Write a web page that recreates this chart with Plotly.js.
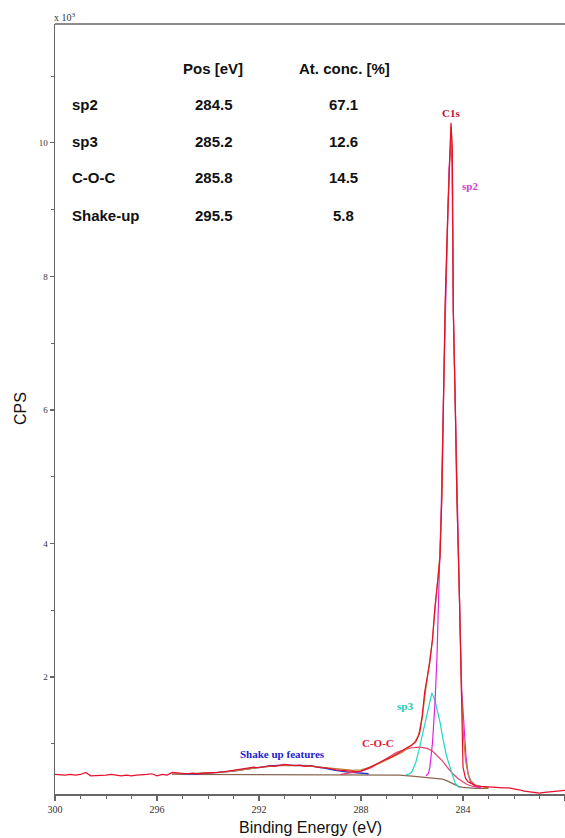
<!DOCTYPE html>
<html><head><meta charset="utf-8">
<script src="https://cdn.plot.ly/plotly-3.0.1.min.js"></script>
<style>html,body{margin:0;padding:0;background:#fff}#chart{width:565px;height:838px}</style>
</head><body><div id="chart"></div>
<script>
// ---- measured spectrum (binding energy eV, counts x10^3) ----
const dataE = [
 300.0,299.8,299.6,299.4,299.2,299.0,298.8,298.6,298.4,298.2,
 298.0,297.8,297.6,297.4,297.2,297.0,296.8,296.6,296.4,296.2,
 296.0,295.8,295.6,295.4,295.2,295.0,294.8,294.6,294.4,294.2,
 294.0,293.8,293.6,293.4,293.2,293.0,292.8,292.6,292.4,292.2,
 292.0,291.8,291.6,291.4,291.2,291.0,290.8,290.6,290.4,290.2,
 290.0,289.8,289.6,289.4,289.2,289.0,288.8,288.6,288.4,288.2,
 288.0,287.8,287.6,287.4,287.2,287.0,286.8,286.6,286.4,286.2,
 286.0,285.85,285.7,285.6,285.5,285.4,285.3,285.2,285.1,285.0,
 284.9,284.83,284.78,284.7,284.6,284.5,284.47,284.42,284.38,284.3,
 284.24,284.14,284.06,284.03,284.0,283.9,283.8,283.7,283.5,283.3,
 283.0,282.8,282.6,282.4,282.2,282.0,281.8,281.6,281.4,281.2,
 281.0,280.8,280.6,280.4,280.2,280.0];
const dataCPS = [
 0.54,0.53,0.53,0.54,0.53,0.54,0.57,0.52,0.52,0.53,
 0.53,0.54,0.53,0.52,0.53,0.52,0.53,0.53,0.54,0.55,
 0.52,0.54,0.53,0.57,0.56,0.55,0.55,0.56,0.55,0.56,
 0.56,0.57,0.57,0.58,0.59,0.60,0.61,0.62,0.64,0.65,
 0.64,0.66,0.67,0.66,0.67,0.69,0.68,0.67,0.68,0.66,
 0.67,0.65,0.64,0.64,0.62,0.61,0.60,0.60,0.59,0.58,
 0.59,0.62,0.66,0.69,0.73,0.77,0.80,0.84,0.89,0.94,
 0.98,1.03,1.16,1.42,1.78,2.00,2.22,2.55,3.05,3.40,
 3.80,4.70,6.00,7.60,8.90,10.0,10.3,9.90,7.50,6.00,
 4.70,3.20,1.80,1.00,0.65,0.48,0.43,0.41,0.37,0.36,
 0.35,0.35,0.34,0.34,0.34,0.33,0.31,0.29,0.28,0.27,
 0.26,0.27,0.28,0.28,0.29,0.30];

// ---- fit envelope ----
const envE = [295.4,294.5,293.5,292.8,292.0,291.2,290.6,290.0,289.4,288.8,288.3,288.0,287.6,287.2,286.8,286.4,286.1,285.9,285.75,285.6,285.5,285.4,285.3,285.2,285.1,285.0,284.9,284.83,284.77,284.7,284.6,284.5,284.47,284.42,284.38,284.3,284.24,284.14,284.06,283.98,283.9,283.8,283.7,283.55,283.3,283.0];
const envCPS = [0.54,0.55,0.57,0.60,0.645,0.67,0.675,0.665,0.64,0.61,0.60,0.61,0.655,0.72,0.79,0.87,0.95,1.02,1.12,1.38,1.70,1.98,2.22,2.55,3.0,3.4,3.85,4.7,6.0,7.5,8.9,10.0,10.25,9.9,7.5,6.0,4.7,3.2,1.8,1.1,0.75,0.55,0.45,0.39,0.36,0.34];

// ---- components ----
const sp2E = [285.45,285.35,285.3,285.2,285.1,285.02,284.97,284.92,284.85,284.75,284.65,284.55,284.48,284.43,284.38,284.3,284.24,284.14,284.05,283.95,283.88,283.8,283.7,283.55,283.3];
const sp2CPS = [0.52,0.56,0.65,1.0,1.6,2.3,3.0,3.6,4.6,6.5,8.3,9.6,10.0,9.7,7.5,6.0,4.7,3.2,1.8,1.1,0.8,0.55,0.42,0.37,0.34];

const sp3E = [286.25,286.1,286.0,285.85,285.7,285.55,285.41,285.3,285.22,285.1,284.98,284.9,284.78,284.65,284.51,284.4,284.31,284.2,284.1];
const sp3CPS = [0.53,0.55,0.58,0.72,0.95,1.2,1.46,1.66,1.76,1.65,1.46,1.32,1.06,0.82,0.65,0.50,0.41,0.36,0.34];

const cocE = [288.8,288.4,288.0,287.6,287.25,287.0,286.6,286.3,286.0,285.7,285.4,285.2,285.0,284.8,284.6,284.4,284.2,284.0,283.84,283.6,283.3];
const cocCPS = [0.54,0.56,0.59,0.64,0.72,0.78,0.87,0.91,0.94,0.95,0.93,0.89,0.82,0.74,0.64,0.55,0.48,0.43,0.39,0.36,0.34];

const shakeE = [295.4,295.0,294.5,294.0,293.5,293.0,292.5,292.0,291.5,291.0,290.5,290.0,289.5,289.0,288.5,288.0,287.7];
const shakeCPS = [0.54,0.54,0.55,0.56,0.57,0.59,0.62,0.65,0.67,0.68,0.68,0.67,0.64,0.60,0.575,0.56,0.55];

const bgE = [295.4,292.0,289.0,287.0,286.5,286.0,285.5,285.0,284.8,284.6,284.4,284.2,284.0,283.8,283.5,283.0];
const bgCPS = [0.54,0.54,0.54,0.535,0.53,0.515,0.50,0.485,0.47,0.44,0.40,0.365,0.345,0.335,0.33,0.33];

// ---- ticks ----
const xTickVals = [300,296,292,288,284,280];
const xTickText = ['300','296','292','288','284','280'];
const yTickVals = [2,4,6,8,10];
const yTickText = ['2','4','6','8','10'];

// ---- table ----
const tableHeaders = ['Pos [eV]','At. conc. [%]'];
const rowNames = ['sp2','sp3','C-O-C','Shake-up'];
const rowPos = ['284.5','285.2','285.8','295.5'];
const rowConc = ['67.1','12.6','14.5','5.8'];

// ---- peak labels ----
const peakLabels = ['C1s','sp2','sp3','C-O-C','Shake up features'];
const peakLabelE = [284.47,283.73,286.27,287.33,291.06];
const peakLabelCPS = [10.45,9.36,1.57,1.01,0.85];
const peakLabelColors = ['#b5103c','#cc44cc','#22c8b0','#e0203c','#2424cc'];

const L = 55, T = 24, W = 510, H = 770;
const px = x => (x - L) / W;
const py = y => (T + H - y) / H;

function line(x, y, color, w) {
  return {x: x, y: y, type: 'scatter', mode: 'lines', line: {color: color, width: w || 1.2}, hoverinfo: 'skip', showlegend: false};
}
const traces = [
  line(bgE, bgCPS, '#8a6650', 1.2),
  line(shakeE, shakeCPS, '#2233cc', 1.3),
  line(cocE, cocCPS, '#e8406a', 1.2),
  line(sp3E, sp3CPS, '#22d6c0', 1.2),
  line(sp2E, sp2CPS, '#e022e0', 1.2),
  line(envE, envCPS, '#c07a35', 1.2),
  line(dataE, dataCPS, '#e6102e', 1.2)
];

const ann = [];
const tfont = {family: 'Liberation Sans, Arial, sans-serif', size: 15, color: '#111', weight: 'bold'};
ann.push({xref:'paper', yref:'paper', x: px(213), y: py(68), text: '<b>' + tableHeaders[0] + '</b>', showarrow:false, font: tfont, xanchor:'center', yanchor:'middle'});
ann.push({xref:'paper', yref:'paper', x: px(344), y: py(68), text: '<b>' + tableHeaders[1] + '</b>', showarrow:false, font: tfont, xanchor:'center', yanchor:'middle'});
const rowY = [104, 141, 178, 215];
rowNames.forEach((n, i) => {
  ann.push({xref:'paper', yref:'paper', x: px(70), y: py(rowY[i]), text: '<b>' + n + '</b>', showarrow:false, font: tfont, xanchor:'left', yanchor:'middle'});
  ann.push({xref:'paper', yref:'paper', x: px(214), y: py(rowY[i]), text: '<b>' + rowPos[i] + '</b>', showarrow:false, font: tfont, xanchor:'center', yanchor:'middle'});
  ann.push({xref:'paper', yref:'paper', x: px(343), y: py(rowY[i]), text: '<b>' + rowConc[i] + '</b>', showarrow:false, font: tfont, xanchor:'center', yanchor:'middle'});
});
peakLabels.forEach((t, i) => {
  ann.push({x: peakLabelE[i], y: peakLabelCPS[i], text: '<b>' + t + '</b>', showarrow:false,
    font: {family: 'Liberation Serif, Times New Roman, serif', size: 11, color: peakLabelColors[i]}, xanchor:'center', yanchor:'middle'});
});
ann.push({xref:'paper', yref:'paper', x: px(310), y: py(827), text: 'Binding Energy (eV)', showarrow:false,
  font: {family: 'Liberation Sans, Arial, sans-serif', size: 16, color: '#111'}, xanchor:'center', yanchor:'middle'});
ann.push({xref:'paper', yref:'paper', x: px(20), y: py(409), text: 'CPS', showarrow:false, textangle: -90,
  font: {family: 'Liberation Sans, Arial, sans-serif', size: 16, color: '#111'}, xanchor:'center', yanchor:'middle'});
ann.push({xref:'paper', yref:'paper', x: px(52), y: py(17), text: 'x 10<sup>3</sup>', showarrow:false,
  font: {family: 'Liberation Serif, Times New Roman, serif', size: 10, color: '#333'}, xanchor:'left', yanchor:'middle'});

const layout = {
  width: 565, height: 838,
  margin: {l: L, r: 0, t: T, b: 838 - T - H},
  paper_bgcolor: '#fff', plot_bgcolor: '#fff',
  showlegend: false,
  xaxis: {range: [300, 280], tickmode: 'array', tickvals: xTickVals, ticktext: xTickText,
    ticks: 'outside', ticklen: 5, tickwidth: 1.2, tickcolor: '#666',
    showline: true, linecolor: '#666', linewidth: 1.5, showgrid: false, zeroline: false,
    tickfont: {family: 'Liberation Serif, Times New Roman, serif', size: 10, color: '#333'},
    minor: {tickmode: 'linear', tick0: 280, dtick: 1, ticks: 'outside', ticklen: 3, tickcolor: '#666', tickwidth: 1, showgrid: false}},
  yaxis: {range: [0.247, 11.78], tickmode: 'array', tickvals: yTickVals, ticktext: yTickText,
    ticks: 'outside', ticklen: 4, tickwidth: 1.2, tickcolor: '#666',
    showline: true, linecolor: '#666', linewidth: 1.5, showgrid: false, zeroline: false,
    tickfont: {family: 'Liberation Serif, Times New Roman, serif', size: 9, color: '#333'},
    minor: {tickmode: 'linear', tick0: 0, dtick: 1, ticks: 'outside', ticklen: 3, tickcolor: '#666', tickwidth: 1, showgrid: false}},
  shapes: [{type: 'line', xref: 'paper', yref: 'paper', x0: 0, x1: 1, y0: 1, y1: 1, line: {color: '#666', width: 1.5}}],
  annotations: ann
};
Plotly.newPlot('chart', traces, layout, {displayModeBar: false, staticPlot: true});
</script></body></html>
